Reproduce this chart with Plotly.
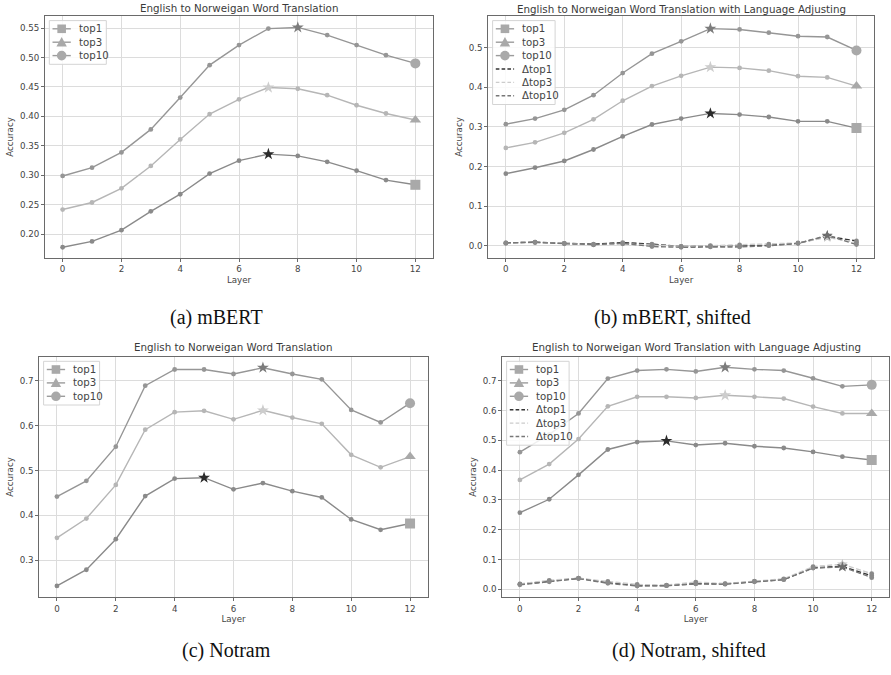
import numpy as np
import plotly.graph_objects as go

# ---------------- data ----------------
layers = list(range(13))
x_ticks = [0, 2, 4, 6, 8, 10, 12]

mbert_top1 = [0.178, 0.188, 0.207, 0.239, 0.268, 0.303, 0.325, 0.336, 0.333, 0.323, 0.308, 0.292, 0.284]
mbert_top3 = [0.242, 0.254, 0.278, 0.316, 0.361, 0.404, 0.429, 0.449, 0.447, 0.436, 0.419, 0.405, 0.394]
mbert_top10 = [0.299, 0.313, 0.339, 0.378, 0.432, 0.487, 0.521, 0.549, 0.551, 0.538, 0.521, 0.504, 0.490]

mbert_sh_top1 = [0.182, 0.197, 0.214, 0.243, 0.276, 0.306, 0.321, 0.334, 0.331, 0.325, 0.314, 0.314, 0.297]
mbert_sh_top3 = [0.247, 0.261, 0.285, 0.319, 0.366, 0.403, 0.429, 0.451, 0.449, 0.442, 0.428, 0.425, 0.403]
mbert_sh_top10 = [0.307, 0.321, 0.343, 0.380, 0.436, 0.485, 0.516, 0.548, 0.546, 0.538, 0.529, 0.527, 0.493]
mbert_sh_dtop1 = [0.007, 0.009, 0.006, 0.004, 0.008, 0.004, -0.002, -0.001, -0.001, 0.001, 0.006, 0.024, 0.012]
mbert_sh_dtop3 = [0.006, 0.008, 0.006, 0.002, 0.005, 0.001, -0.002, 0.000, 0.002, 0.004, 0.007, 0.021, 0.008]
mbert_sh_dtop10 = [0.007, 0.009, 0.005, 0.003, 0.006, -0.002, -0.004, -0.003, -0.003, 0.000, 0.006, 0.026, 0.003]

notram_top1 = [0.243, 0.279, 0.347, 0.443, 0.482, 0.484, 0.458, 0.472, 0.454, 0.440, 0.391, 0.368, 0.382]
notram_top3 = [0.350, 0.393, 0.468, 0.591, 0.630, 0.633, 0.614, 0.634, 0.618, 0.604, 0.535, 0.507, 0.531]
notram_top10 = [0.442, 0.477, 0.553, 0.689, 0.725, 0.725, 0.715, 0.729, 0.715, 0.703, 0.635, 0.607, 0.650]

notram_sh_top1 = [0.257, 0.302, 0.384, 0.469, 0.494, 0.498, 0.484, 0.490, 0.480, 0.474, 0.461, 0.445, 0.434]
notram_sh_top3 = [0.367, 0.420, 0.504, 0.614, 0.646, 0.646, 0.642, 0.651, 0.646, 0.640, 0.613, 0.590, 0.590]
notram_sh_top10 = [0.460, 0.520, 0.590, 0.707, 0.734, 0.738, 0.731, 0.745, 0.738, 0.734, 0.708, 0.681, 0.686]
notram_sh_dtop1 = [0.017, 0.027, 0.037, 0.022, 0.013, 0.012, 0.019, 0.018, 0.026, 0.033, 0.072, 0.077, 0.045]
notram_sh_dtop3 = [0.018, 0.030, 0.037, 0.026, 0.016, 0.014, 0.024, 0.019, 0.027, 0.035, 0.076, 0.084, 0.052]
notram_sh_dtop10 = [0.015, 0.025, 0.036, 0.020, 0.011, 0.012, 0.018, 0.017, 0.025, 0.032, 0.071, 0.075, 0.039]

series_names = ["top1", "top3", "top10"]
delta_names = ["\u0394top1", "\u0394top3", "\u0394top10"]
title_plain = "English to Norweigan Word Translation"
title_adjust = "English to Norweigan Word Translation with Language Adjusting"
captions = ["(a) mBERT", "(b) mBERT, shifted", "(c) Notram", "(d) Notram, shifted"]

# ---------------- style ----------------
W, H = 891, 675
line_col = ["#8a8a8a", "#b6b6b6", "#969696"]
star_col = ["#2b2b2b", "#cdcdcd", "#7c7c7c"]
end_col = "#a9a9a9"
leg_line = "#9c9c9c"
end_sym = ["square", "triangle-up", "circle"]
delta_col = ["#333333", "#cccccc", "#777777"]
delta_star = ["#2b2b2b", "#c4c4c4", "#6e6e6e"]
DASH = "5px,2.4px"
FONT = "DejaVu Sans"
TXT = "#444444"


def px_x(p):
    return p / W


def px_y(p):
    return 1 - p / H


panels = [
    dict(title=title_plain, main=[mbert_top1, mbert_top3, mbert_top10], deltas=None,
         xd=(45, 433), yd=(16, 258), yr=[0.1598, 0.5704], dt=0.05, fmt=".2f",
         cap=(216, 318), tit=(239, 8), legw=57),
    dict(title=title_adjust, main=[mbert_sh_top1, mbert_sh_top3, mbert_sh_top10],
         deltas=[mbert_sh_dtop1, mbert_sh_dtop3, mbert_sh_dtop10],
         xd=(488.3, 874), yd=(16, 258), yr=[-0.031, 0.58], dt=0.1, fmt=".1f",
         cap=(672, 318), tit=(681, 9), legw=62.5),
    dict(title=title_plain, main=[notram_top1, notram_top3, notram_top10], deltas=None,
         xd=(39.3, 427.7), yd=(356.7, 597.3), yr=[0.2176, 0.7535], dt=0.1, fmt=".1f",
         cap=(226, 650), tit=(233, 347), legw=56),
    dict(title=title_adjust, main=[notram_sh_top1, notram_sh_top3, notram_sh_top10],
         deltas=[notram_sh_dtop1, notram_sh_dtop3, notram_sh_dtop10],
         xd=(502.3, 889.3), yd=(356.7, 597.3), yr=[-0.027, 0.7805], dt=0.1, fmt=".1f",
         cap=(689, 650), tit=(696, 347), legw=62.5),
]

fig = go.Figure()
annotations = []
shapes = []
layout_axes = {}


def add_legend(p, entries):
    """Compact matplotlib-style legend box drawn in paper coordinates."""
    left = p["xd"][0] + 4.3
    top = p["yd"][0] + 4.6
    step = 13.4
    n = len(entries)
    shapes.append(dict(type="rect", xref="paper", yref="paper", layer="above",
                       x0=px_x(left), x1=px_x(left + p["legw"]),
                       y0=px_y(top + step * n + 3.5), y1=px_y(top),
                       fillcolor="rgba(255,255,255,0.85)",
                       line=dict(color="#d4d4d4", width=1)))
    for r, (label, color, dash, sym) in enumerate(entries):
        cy = top + 8.2 + step * r
        lx0, lx1 = left + 3.2, left + 21.5
        cx = (lx0 + lx1) / 2
        shapes.append(dict(type="line", xref="paper", yref="paper", layer="above",
                           x0=px_x(lx0), x1=px_x(lx1), y0=px_y(cy), y1=px_y(cy),
                           line=dict(color=color, width=1.4, dash=dash)))
        s = 4.3
        if sym == "square":
            shapes.append(dict(type="rect", xref="paper", yref="paper", layer="above",
                               x0=px_x(cx - s), x1=px_x(cx + s), y0=px_y(cy + s), y1=px_y(cy - s),
                               fillcolor=end_col, line=dict(width=0)))
        elif sym == "triangle-up":
            path = "M {:.5f},{:.5f} L {:.5f},{:.5f} L {:.5f},{:.5f} Z".format(
                px_x(cx - 5.2), px_y(cy + 4.2), px_x(cx + 5.2), px_y(cy + 4.2),
                px_x(cx), px_y(cy - 5.2))
            shapes.append(dict(type="path", xref="paper", yref="paper", layer="above",
                               path=path, fillcolor=end_col, line=dict(width=0)))
        elif sym == "circle":
            shapes.append(dict(type="circle", xref="paper", yref="paper", layer="above",
                               x0=px_x(cx - 4.8), x1=px_x(cx + 4.8), y0=px_y(cy + 4.8), y1=px_y(cy - 4.8),
                               fillcolor=end_col, line=dict(width=0)))
        annotations.append(dict(text=label, x=px_x(left + 27.3), y=px_y(cy), xref="paper",
                                yref="paper", xanchor="left", yanchor="middle", showarrow=False,
                                font=dict(family=FONT, size=10.2, color=TXT)))


for i, p in enumerate(panels):
    n = i + 1
    sfx = "" if n == 1 else str(n)
    xa, ya = "x" + sfx, "y" + sfx

    layout_axes["xaxis" + sfx] = dict(
        domain=[px_x(p["xd"][0]), px_x(p["xd"][1])], anchor=ya, range=[-0.6, 12.6],
        tickmode="array", tickvals=x_ticks, showgrid=True, gridcolor="#dcdcdc", gridwidth=1,
        showline=True, linecolor="#6a6a6a", linewidth=1, mirror=True,
        ticks="outside", ticklen=3, tickcolor="#6a6a6a",
        tickfont=dict(family=FONT, size=8.7, color=TXT), zeroline=False,
        title=dict(text="Layer", font=dict(family=FONT, size=8.7, color=TXT), standoff=3),
    )
    layout_axes["yaxis" + sfx] = dict(
        domain=[px_y(p["yd"][1]), px_y(p["yd"][0])], anchor=xa, range=p["yr"],
        dtick=p["dt"], tick0=0, tickformat=p["fmt"], showgrid=True, gridcolor="#dcdcdc",
        showline=True, linecolor="#6a6a6a", linewidth=1, mirror=True,
        ticks="outside", ticklen=3, tickcolor="#6a6a6a",
        tickfont=dict(family=FONT, size=8.7, color=TXT), zeroline=False,
        title=dict(text="Accuracy", font=dict(family=FONT, size=8.7, color=TXT), standoff=4),
    )

    for k, vals in enumerate(p["main"]):
        fig.add_trace(go.Scatter(
            x=layers, y=vals, xaxis=xa, yaxis=ya, mode="lines+markers", name=series_names[k],
            line=dict(color=line_col[k], width=1.4),
            marker=dict(color=line_col[k], size=4.8, symbol="circle"),
            showlegend=False, hoverinfo="skip"))
    if p["deltas"] is not None:
        for k, vals in enumerate(p["deltas"]):
            fig.add_trace(go.Scatter(
                x=layers, y=vals, xaxis=xa, yaxis=ya, mode="lines+markers", name=delta_names[k],
                line=dict(color=delta_col[k], width=1.4, dash=DASH),
                marker=dict(color="#8a8a8a", size=4.8),
                showlegend=False, hoverinfo="skip"))
    for k, vals in enumerate(p["main"]):
        fig.add_trace(go.Scatter(
            x=[layers[-1]], y=[vals[-1]], xaxis=xa, yaxis=ya, mode="markers",
            marker=dict(color=end_col, size=10, symbol=end_sym[k]),
            name=series_names[k], showlegend=False, hoverinfo="skip"))
    for k, vals in enumerate(p["main"]):
        j = int(np.argmax(vals))
        fig.add_trace(go.Scatter(
            x=[layers[j]], y=[vals[j]], xaxis=xa, yaxis=ya, mode="markers",
            marker=dict(color=star_col[k], size=9, symbol="star"),
            showlegend=False, hoverinfo="skip"))
    if p["deltas"] is not None:
        for k, vals in enumerate(p["deltas"]):
            j = int(np.argmax(vals))
            fig.add_trace(go.Scatter(
                x=[layers[j]], y=[vals[j]], xaxis=xa, yaxis=ya, mode="markers",
                marker=dict(color=delta_star[k], size=8, symbol="star"),
                showlegend=False, hoverinfo="skip"))

    entries = [(series_names[k], leg_line, "solid", end_sym[k]) for k in range(3)]
    if p["deltas"] is not None:
        entries += [(delta_names[k], delta_col[k], "3.6px,2.2px", None) for k in range(3)]
    add_legend(p, entries)

    annotations.append(dict(
        text=p["title"], x=px_x(p["tit"][0]), y=px_y(p["tit"][1]), xref="paper", yref="paper",
        xanchor="center", yanchor="middle", showarrow=False,
        font=dict(family=FONT, size=10.3, color="#3a3a3a")))
    annotations.append(dict(
        text=captions[i], x=px_x(p["cap"][0]), y=px_y(p["cap"][1]), xref="paper", yref="paper",
        xanchor="center", yanchor="middle", showarrow=False,
        font=dict(family="Liberation Serif", size=20, color="#111111")))

fig.update_layout(
    width=W, height=H, margin=dict(l=0, r=0, t=0, b=0),
    paper_bgcolor="white", plot_bgcolor="white", showlegend=False,
    annotations=annotations, shapes=shapes, **layout_axes,
)

fig.write_html("out.html", config={"displayModeBar": False},
               post_script="document.body.style.margin='0px';")
